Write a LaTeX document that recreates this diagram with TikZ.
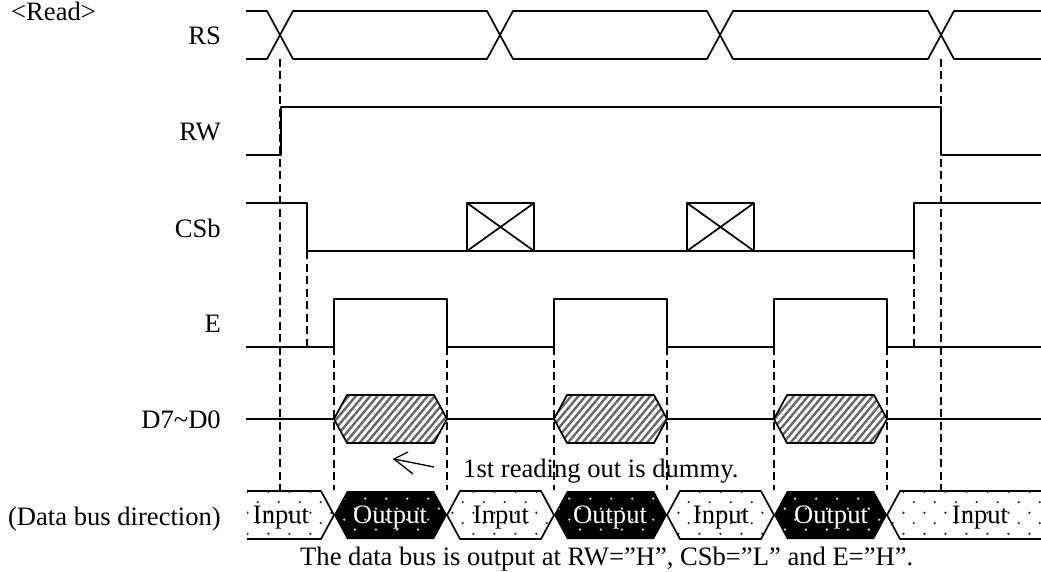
\documentclass[tikz,border=0pt]{standalone}
\usepackage{fontspec}
\setmainfont{Liberation Serif}
\usetikzlibrary{patterns, patterns.meta}
\pgfdeclarepatternformonly{indots}{\pgfqpoint{0pt}{0pt}}{\pgfqpoint{20.5pt}{20.5pt}}{\pgfqpoint{20.5pt}{20.5pt}}{
  \pgfpathcircle{\pgfqpoint{1.5pt}{18.5pt}}{1.3pt}
  \pgfpathcircle{\pgfqpoint{12pt}{8pt}}{1.3pt}
  \pgfusepath{fill}}
\pgfdeclarepatternformonly{outdots}{\pgfqpoint{0pt}{0pt}}{\pgfqpoint{20.5pt}{20.5pt}}{\pgfqpoint{20.5pt}{20.5pt}}{
  \pgfpathcircle{\pgfqpoint{16.5pt}{11.5pt}}{1.3pt}
  \pgfpathcircle{\pgfqpoint{6pt}{1.4pt}}{1.3pt}
  \pgfusepath{fill}}
\tikzset{wave/.style={line width=1.7pt, line join=round}}
\tikzset{guide/.style={line width=1.3pt, dash pattern=on 8pt off 4.5pt}}
\tikzset{sig/.style={font=\fontsize{26.6}{26.6}\selectfont, inner sep=0pt, anchor=east}}
\tikzset{txt/.style={font=\fontsize{26.6}{26.6}\selectfont, inner sep=0pt}}
\tikzset{hatch/.style={pattern={Lines[angle=50,distance=5.5pt,line width=2.4pt]}, pattern color=black!60}}
\tikzset{inbus/.style={pattern=indots, pattern color=black!80}}
\tikzset{outbus/.style={pattern=outdots, pattern color=white!85!black}}
\begin{document}
\begin{tikzpicture}[x=1pt,y=-1pt]
      \useasboundingbox (0,0) rectangle (1041,572);
      % Labels
      \node[txt,anchor=west] (read) at (11,11) {<Read>};
      \node[sig] (rs) at (221,36) {RS};
      \node[sig] (rw) at (221,132) {RW};
      \node[sig] (csb) at (221,228) {CSb};
      \node[sig] (e) at (221,324) {E};
      \node[sig] (data) at (221,420) {D7\textasciitilde D0};
      \node[sig] (dir) at (221,519) {(Data bus direction)};

      % RS
      \draw[wave] (246,11) -- (267,11) -- (293,59) -- (487,59) -- (513,11) -- (707,11)
        -- (733,59) -- (928,59) -- (954,11) -- (1041,11);
      \draw[wave] (246,59) -- (267,59) -- (293,11) -- (487,11) -- (513,59) -- (707,59)
        -- (733,11) -- (928,11) -- (954,59) -- (1041,59);
      % RW
      \draw[wave] (246,155) -- (281,155) -- (281,107) -- (941,107) -- (941,155) -- (1041,155);
      % CSb
      \draw[wave] (246,203) -- (307,203) -- (307,251) -- (914,251) -- (914,203) -- (1041,203);
      \foreach \x in {467,687} {
        \draw[wave] (\x,203) rectangle (\x+67,251);
        \draw[wave] (\x,203) -- (\x+67,251);
        \draw[wave] (\x,251) -- (\x+67,203);
      }
      % E
      \draw[wave] (246,347) -- (334,347) -- (334,299) -- (447,299) -- (447,347) -- (554,347)
        -- (554,299) -- (667,299) -- (667,347) -- (774,347) -- (774,299) -- (887,299)
        -- (887,347) -- (1041,347);
      % D7~D0
      \draw[wave] (246,419) -- (334,419);
      \draw[wave] (447,419) -- (554,419);
      \draw[wave] (667,419) -- (774,419);
      \draw[wave] (887,419) -- (1041,419);
      \foreach \x in {334,554,774} {
        \fill[hatch] (\x,419) -- (\x+13,395) -- (\x+100,395) -- (\x+113,419)
          -- (\x+100,443) -- (\x+13,443) -- cycle;
        \draw[wave] (\x,419) -- (\x+13,395) -- (\x+100,395) -- (\x+113,419)
          -- (\x+100,443) -- (\x+13,443) -- cycle;
      }

      % Data bus direction
      \fill[inbus] (247,491) -- (321,491) -- (334,515) -- (321,539) -- (247,539) -- cycle;
      \fill[inbus] (447,515) -- (460,491) -- (541,491) -- (554,515) -- (541,539) -- (460,539) -- cycle;
      \fill[inbus] (667,515) -- (680,491) -- (761,491) -- (774,515) -- (761,539) -- (680,539) -- cycle;
      \fill[inbus] (887,515) -- (900,491) -- (1041,491) -- (1041,539) -- (900,539) -- cycle;
      \draw[wave] (247,491) -- (321,491) -- (334,515) -- (321,539) -- (247,539);
      \draw[wave] (447,515) -- (460,491) -- (541,491) -- (554,515) -- (541,539) -- (460,539) -- cycle;
      \draw[wave] (667,515) -- (680,491) -- (761,491) -- (774,515) -- (761,539) -- (680,539) -- cycle;
      \draw[wave] (1041,491) -- (900,491) -- (887,515) -- (900,539) -- (1041,539);
      \foreach \x in {334,554,774} {
        \fill[black] (\x,515) -- (\x+13,491) -- (\x+100,491) -- (\x+113,515)
          -- (\x+100,539) -- (\x+13,539) -- cycle;
        \fill[outbus] (\x+2,515) -- (\x+14,493) -- (\x+99,493) -- (\x+111,515)
          -- (\x+99,537) -- (\x+14,537) -- cycle;
      }
      \node[txt] (in1) at (281,518) {Input};
      \node[txt,text=white] (out1) at (390,518) {Output};
      \node[txt] (in2) at (501,518) {Input};
      \node[txt,text=white] (out2) at (610,518) {Output};
      \node[txt] (in3) at (721,518) {Input};
      \node[txt,text=white] (out3) at (831,518) {Output};
      \node[txt] (in4) at (980,518) {Input};

      % Guides
      \draw[guide] (280,59) -- (280,490);
      \draw[guide] (941,59) -- (941,490);
      \draw[guide] (307,251) -- (307,347);
      \draw[guide] (914,251) -- (914,347);
      \foreach \x in {334,447,554,667,774,887} {
        \draw[guide] (\x,347) -- (\x,490);
      }

      % Note
      \node[txt,anchor=west] (note) at (463,471) {1st reading out is dummy.};
      \coordinate (notetail) at (434,467);
      \coordinate (notehead) at (394,459);
      \draw[line width=1.3pt] (notetail) -- (notehead);
      \draw[line width=1.3pt] (408,452) -- (notehead) -- (413,474);
      \node[txt,anchor=west] (foot) at (300,559) {The data bus is output at RW=”H”, CSb=”L” and E=”H”.};
\end{tikzpicture}
\end{document}
